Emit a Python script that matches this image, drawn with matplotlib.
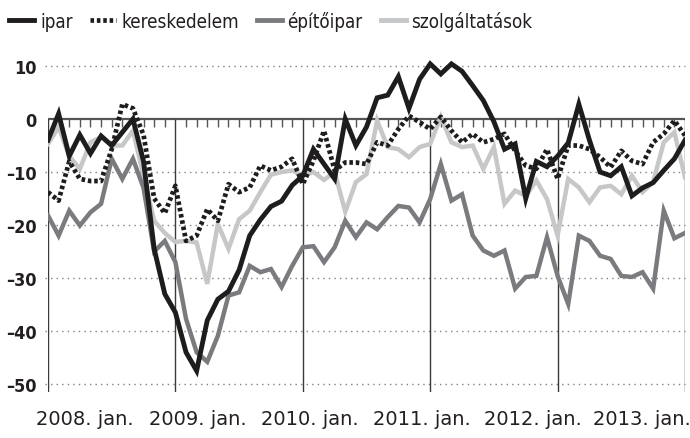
import matplotlib
matplotlib.use("Agg")
import matplotlib.pyplot as plt
from matplotlib.lines import Line2D
import numpy as np

# ---- data (monthly, 2008 Jan .. 2013 Jan) ----
ipar = [-4, 1, -7, -3, -6.5, -3.2, -5, -2.5, 0, -8,
        -24.5, -33, -36.5, -44, -47.5, -38, -34, -32.5, -28.5, -22,
        -19, -16.5, -15.5, -12.5, -10.7, -5.7, -8.5, -11.3, 0, -5,
        -1.5, 4, 4.5, 8, 2, 7.5, 10.4, 8.5, 10.4, 9,
        6.3, 3.5, -0.5, -5.7, -4.7, -15, -8, -9, -7, -4.5,
        2.8, -4, -10, -10.7, -9, -14.5, -13, -12, -9.7, -7.5, -4]
kereskedelem = [-13.8, -15.4, -8, -11.3, -11.7, -11.7, -5.7, 2.8, 2, -3,
                -15, -17.8, -12.6, -23, -22, -17, -19.2, -12.3, -13.8, -12.9,
                -8.8, -9.7, -9, -7.5, -12.3, -7.9, -2.2, -9.7, -8.2, -8.2,
                -8.5, -4.4, -5, -1.9, 0.6, -0.6, -1.9, 0.4, -2.2, -4.4,
                -2.8, -4.4, -3.8, -2.8, -6, -8.8, -9.4, -5.7, -11.3, -5,
                -5, -5.7, -7.2, -9.1, -6, -7.9, -8.5, -4.4, -2.8, -0.3, -3.1]
epitoipar = [-18.2, -22, -17.3, -20.1, -17.6, -16, -7.5, -11.3, -7.5, -13,
             -25, -23, -27, -37.7, -44, -45.8, -40.9, -33.3, -32.7, -27.7,
             -28.9, -28.3, -31.7, -27.7, -24.2, -24, -27, -24.2, -19.2, -22.3,
             -19.5, -20.8, -18.5, -16.4, -16.7, -19.5, -15.1, -8.5, -15.4, -14.2,
             -22, -24.8, -25.8, -24.8, -32, -29.8, -29.6, -22.3, -29.6, -34.9,
             -22, -23, -25.8, -26.4, -29.6, -29.8, -28.9, -32, -17.3, -22.5, -21.5]
szolgaltatasok = [-4.7, -1.5, -7, -9.4, -4.4, -3.4, -5, -5, -2.2, -10.7,
                  -19.2, -21.5, -23.2, -23, -23.3, -31.1, -19.8, -24.5, -18.9, -17.3,
                  -13.8, -10.5, -10, -9.7, -10.7, -10, -11.5, -10, -17.5, -11.9,
                  -10.4, -0.3, -5.3, -5.7, -7.2, -5.3, -4.7, 0.4, -4.4, -5.3,
                  -5, -9.4, -5.3, -16, -13.5, -14.5, -11.6, -15.1, -22, -11.3,
                  -12.9, -15.7, -12.9, -12.6, -14.2, -10.7, -13.8, -11.9, -4.4, -2.5, -11]

series_names = ["ipar", "kereskedelem", "építőipar", "szolgáltatások"]
xlabels = ["2008. jan.", "2009. jan.", "2010. jan.", "2011. jan.", "2012. jan.", "2013. jan."]
xlabel_pos = [3.5, 14.1, 24.7, 35.2, 45.7, 55.9]
yticks = [10, 0, -10, -20, -30, -40, -50]
ylabels = ["10", "0", "–10", "–20", "–30", "–40", "–50"]

months = np.arange(len(ipar))

plt.rcParams["font.family"] = ["DejaVu Sans"]
TXT = "#231f20"

W, H = 690, 439
fig = plt.figure(figsize=(W / 100, H / 100), dpi=100)
left, right, bottom_px, top_px = 48, 685, 393, 56.4
ax = fig.add_axes([left / W, (H - bottom_px) / H, (right - left) / W, (bottom_px - top_px) / H])
ax.set_xlim(0, 60)
ax.set_ylim(-51.5, 12)
for s in ax.spines.values():
    s.set_visible(False)

# dotted grid
grid_vals = [v for v in yticks if v != 0]
ax.hlines(grid_vals, -0.3, 60, colors="#808080", linestyles=(0, (1, 3)), lw=1.0,
          clip_on=False, zorder=1)
# zero line + monthly ticks
ax.axhline(0, color="#555555", lw=1.6, zorder=1.5)
minor = [m for m in months if m % 12 != 0]
ax.vlines(minor, -1.5, 0, colors="#555555", lw=1.0, zorder=1.5)
# year separators
ax.vlines(months[::12], -51.5, 0, colors="#3a3a3a", lw=1.0, zorder=1.5)

c_black = "#1e1c1d"
c_dark = "#7a7b7e"
c_light = "#c6c7c9"
ax.plot(months, szolgaltatasok, color=c_light, lw=3.2, zorder=2, solid_joinstyle="miter")
ax.plot(months, epitoipar, color=c_dark, lw=3.2, zorder=3, solid_joinstyle="miter")
ax.plot(months, kereskedelem, color=c_black, lw=3.4, zorder=4, linestyle=(0, (0.75, 0.6)))
ax.plot(months, ipar, color=c_black, lw=3.5, zorder=5, solid_joinstyle="miter")

ax.set_yticks(yticks)
ax.set_yticklabels(ylabels, fontweight="bold", fontsize=13, color=TXT, fontstretch="condensed")
ax.set_xticks(xlabel_pos)
ax.set_xticklabels(xlabels, fontsize=14, color=TXT)
ax.tick_params(axis="both", length=0)
ax.tick_params(axis="y", pad=8)
ax.tick_params(axis="x", pad=12)

handles = [
    Line2D([], [], color=c_black, lw=3.5),
    Line2D([], [], color=c_black, lw=3.4, linestyle=(0, (0.75, 0.6))),
    Line2D([], [], color=c_dark, lw=3.5),
    Line2D([], [], color=c_light, lw=3.5),
]
leg = fig.legend(handles, series_names, loc="center left", bbox_to_anchor=(9 / W, 1 - 22 / H),
                 ncol=4, frameon=False, handlelength=1.35, handletextpad=0.3,
                 columnspacing=0.95, borderaxespad=0, borderpad=0,
                 prop={"size": 13.5, "stretch": "condensed", "family": "DejaVu Sans"})
for t in leg.get_texts():
    t.set_color(TXT)

fig.savefig("out.png", dpi=100)
